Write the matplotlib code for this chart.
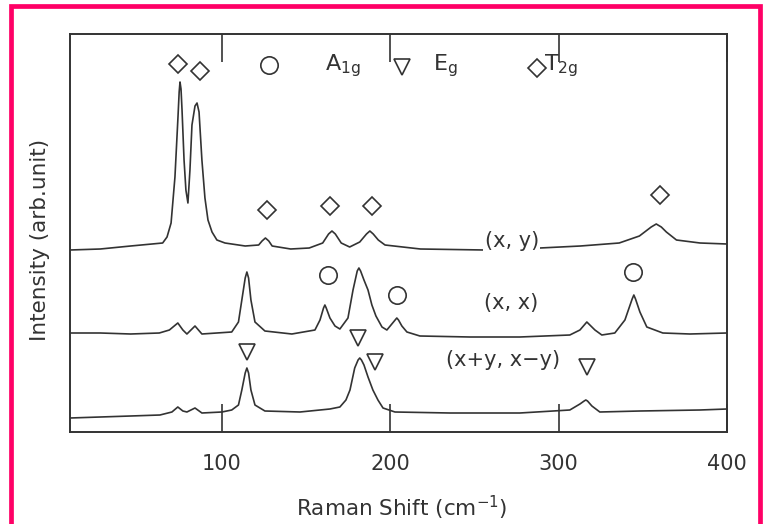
import numpy as np
import matplotlib
matplotlib.use("Agg")
import matplotlib.pyplot as plt
from matplotlib.patches import Rectangle

plt.rcParams['font.family'] = ['DejaVu Sans']
plt.rcParams['mathtext.default'] = 'regular'

#################################### spectra ##################################
# Raman shift (cm^-1) / intensity (arb. unit, shifted per polarisation)
xy_shift = [10, 28, 46, 65, 67.6, 70, 72.3, 74.1, 74.8, 75.3, 75.9, 76.5, 77.7, 78.8, 80.0,
            81.2, 82.4, 84.2, 85.4, 86.6, 88.3, 90.1, 91.9, 94.3, 97.2, 102, 114, 122,
            124, 126, 128, 130, 141, 152, 160, 163.5, 165.5, 167.5, 171, 176, 182, 186,
            188, 190, 193, 197, 218, 256, 289, 313, 336, 348, 355, 358, 361, 364, 370,
            384, 400]
xy_int = [182, 183, 186, 189, 195, 209, 255, 315, 340, 350, 343, 322, 272, 242, 229,
          262, 307, 326, 329, 320, 272, 234, 212, 200, 192, 189, 186, 187,
          191, 194, 191, 186, 183, 184, 189, 198, 201, 198, 189, 185, 190, 198,
          201, 198, 192, 187, 183, 182, 184, 186, 189, 196, 205, 208, 205, 200, 192,
          189, 188]

xx_shift = [10, 28, 46, 63, 69, 74, 77, 79.4, 84.2, 88.3, 106, 110, 112, 114, 115, 116,
            117.4, 119.8, 125.7, 141.7, 155.4, 158.4, 160.5, 161.3, 162.1, 164.3, 167.3,
            170.2, 175, 178, 180.5, 181.5, 182.5, 184.5, 186.9, 189.2, 191.6, 195.2,
            198.1, 203, 204, 205, 207, 210, 217.7, 247.4, 277, 306.7, 312.7, 316.8,
            321.6, 325.7, 333.4, 339.4, 343.7, 344.7, 345.7, 348.3, 352.4, 361.9, 378,
            400]
xx_int = [99, 99, 98, 99, 102, 109, 102, 98, 106, 98, 100, 110, 132, 154, 160, 154,
          132, 110, 101, 98, 102, 112, 124, 127, 124, 114, 106,
          103, 114, 142, 161, 164, 161, 152, 142, 127, 116, 105,
          102, 112, 114, 112, 106, 100, 96, 95, 95, 97, 102, 110,
          102, 97, 99, 112, 133, 137, 133, 120, 105, 99, 98,
          99]

pm_shift = [10, 28, 46, 63.4, 70.5, 74, 77, 79.4, 84.2, 88.3, 100.2, 106, 110, 112, 114,
            115, 116, 117.4, 119.8, 125.7, 146.5, 164.3, 170.2, 173.8, 176.2, 179, 181,
            182, 183, 184.5, 186.9, 189.8, 192.8, 195.8, 202.9, 235.5, 277, 306.7, 312.7,
            315.2, 316.2, 317.2, 319.8, 324.5, 348.3, 383.9, 400]
pm_int = [14, 15, 16, 17, 20, 25, 21, 20, 24, 19, 20, 22, 27, 42, 59,
          64, 59, 42, 27, 21, 20, 23, 25, 32, 42, 64, 72,
          74, 72, 67, 55, 42, 32, 24, 20, 19, 19, 22, 28,
          31, 32, 31, 26, 20, 21, 22, 23]

# mode symbols: (shift, height)
t2g_x = [126.9, 164.3, 189.2, 360.1]
t2g_y = [222, 226, 226, 237]
a1g_x = [163.1, 204.0, 344.1]
a1g_y = [157, 137, 160]
eg_x = [115.0, 181.0, 191.0, 316.8]
eg_y = [80, 94, 70, 65]

# legend row on top
key_t2g_x = [74.1, 87.2, 287.1]
key_t2g_y = [368, 361, 364]
key_a1g = (128.1, 367)
key_eg = (207.0, 365)

ink = '#333333'

fig = plt.figure(figsize=(7.63, 5.24), dpi=100)
ax = fig.add_axes([70/763, 1-432/524, 657/763, 398/524])

ax.plot(xy_shift, xy_int, color=ink, lw=1.2)
ax.plot(xx_shift, xx_int, color=ink, lw=1.2)
ax.plot(pm_shift, pm_int, color=ink, lw=1.2)

mk = dict(linestyle='none', markerfacecolor='white', markeredgecolor=ink, markeredgewidth=1.2)
ax.plot(t2g_x, t2g_y, marker='D', ms=9, **mk)
ax.plot(a1g_x, a1g_y, marker='o', ms=12.5, **mk)
ax.plot(eg_x, eg_y, marker='v', ms=11, **mk)

ax.plot(key_t2g_x, key_t2g_y, marker='D', ms=9, **mk)
ax.plot([key_a1g[0]], [key_a1g[1]], marker='o', ms=12.5, **mk)
ax.plot([key_eg[0]], [key_eg[1]], marker='v', ms=11, **mk)

ax.text(161.3, 366, r'A$_{1g}$', fontsize=16, color=ink, ha='left', va='center')
ax.text(225.4, 366, r'E$_{g}$', fontsize=16, color=ink, ha='left', va='center')
ax.text(291.5, 366, r'T$_{2g}$', fontsize=16, color=ink, ha='left', va='center')

lbl = dict(fontsize=15, color=ink, ha='center', va='center')
ax.text(272.3, 191, '(x, y)', bbox=dict(fc='white', ec='none', pad=1), **lbl)
ax.text(271.7, 129, '(x, x)', **lbl)
ax.text(267.0, 72, '(x+y, x\u2212y)', **lbl)

ax.set_xlim(10, 400)
ax.set_ylim(0, 398)
ax.set_xticks([100, 200, 300, 400])
ax.set_yticks([])
ax.tick_params(axis='x', direction='in', length=20, width=1.2, color=ink,
               top=True, labelsize=15, labelcolor=ink, pad=16)
for s in ax.spines.values():
    s.set_linewidth(1.4)
    s.set_color(ink)

fig.text(402/763, 1-508/524, 'Raman Shift (cm$^{-1}$)', fontsize=15.5, color=ink,
         ha='center', va='center')
fig.text(40/763, 1-240/524, 'Intensity (arb.unit)', fontsize=15.5, color=ink,
         ha='center', va='center', rotation=90)

# pink frame round the figure, open at the bottom
fig.add_artist(Rectangle((10.5/763, -0.05), 749.5/763, 1.05-5.5/524,
                         transform=fig.transFigure, fill=False, lw=3.4, ec='#ff0066'))

fig.savefig('out.png', dpi=100)
